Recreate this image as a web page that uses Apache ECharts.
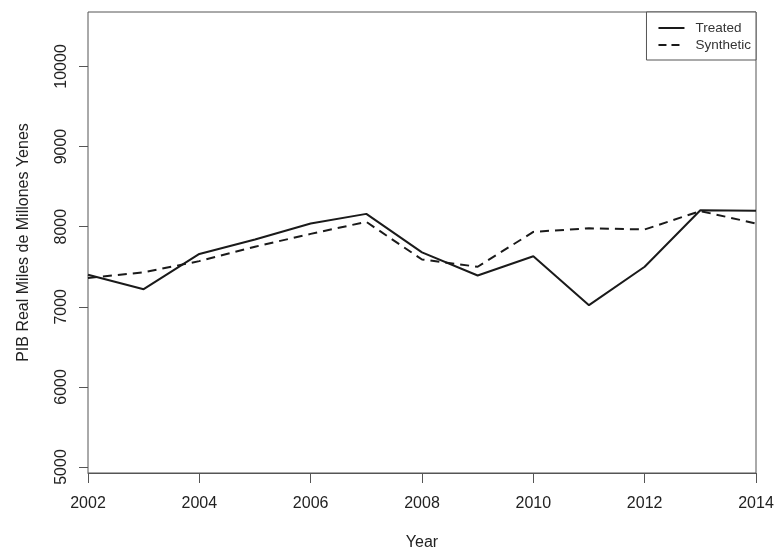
<!DOCTYPE html>
<html>
<head>
<meta charset="utf-8">
<script src="https://cdn.jsdelivr.net/npm/echarts@6/dist/echarts.min.js"></script>
<style>
html,body{margin:0;padding:0;background:#fff;}
#chart{width:779px;height:556px;}
</style>
</head>
<body>
<div id="chart"></div>
<script>
const years = [2002,2003,2004,2005,2006,2007,2008,2009,2010,2011,2012,2013,2014];
const treated = [7400,7220,7660,7840,8040,8160,7680,7390,7630,7020,7500,8205,8200];
const synthetic = [7360,7430,7570,7750,7910,8060,7590,7500,7935,7980,7965,8195,8040];
const yTicks = [5000,6000,7000,8000,9000,10000];

const chart = echarts.init(document.getElementById('chart'));
const font = 'Liberation Sans, Arial, Helvetica, sans-serif';
chart.setOption({
  animation: false,
  backgroundColor: '#fff',
  grid: {left: 88, right: 23, top: 12, bottom: 83, show: true, borderColor: '#555', borderWidth: 1, containLabel: false},
  legend: {
    orient: 'vertical', right: 23, top: 12,
    data: [
      {name: 'Treated', itemStyle: {color: 'rgba(0,0,0,0)', borderWidth: 0}, lineStyle: {color: '#1a1a1a', width: 2, type: 'solid'}},
      {name: 'Synthetic', itemStyle: {color: 'rgba(0,0,0,0)', borderWidth: 0}, lineStyle: {color: '#1a1a1a', width: 2, type: [8, 5]}}
    ],
    borderColor: '#555', borderWidth: 1, backgroundColor: '#fff',
    padding: [9, 5, 8, 11], itemWidth: 26, itemHeight: 14, itemGap: 3,
    textStyle: {fontFamily: font, fontSize: 13.5, color: '#333', padding: [0,0,0,6]}
  },
  xAxis: {
    type: 'value', min: 2002, max: 2014, interval: 2,
    name: 'Year', nameLocation: 'middle', nameGap: 62,
    nameTextStyle: {fontFamily: font, fontSize: 16, color: '#222'},
    axisLine: {show: true, lineStyle: {color: '#555'}},
    axisTick: {show: true, inside: false, length: 10, lineStyle: {color: '#555'}},
    axisLabel: {fontFamily: font, fontSize: 16, color: '#222', margin: 23, formatter: v => String(v)},
    splitLine: {show: false}
  },
  yAxis: {
    type: 'value', min: 4925, max: 10680,
    name: 'PIB Real Miles de Millones Yenes', nameLocation: 'middle', nameGap: 56, nameRotate: 90,
    nameTextStyle: {fontFamily: font, fontSize: 16, color: '#222'},
    axisLine: {show: false},
    axisTick: {show: true, inside: false, length: 9, customValues: yTicks, lineStyle: {color: '#555'}},
    axisLabel: {fontFamily: font, fontSize: 16, color: '#222', margin: 18, rotate: 90, customValues: yTicks, formatter: v => String(v)},
    splitLine: {show: false}
  },
  series: [
    {name: 'Treated', type: 'line', data: years.map((y,i)=>[y, treated[i]]), symbol: 'none',
     lineStyle: {color: '#1a1a1a', width: 2, type: 'solid'}, itemStyle: {color: '#1a1a1a'}},
    {name: 'Synthetic', type: 'line', data: years.map((y,i)=>[y, synthetic[i]]), symbol: 'none',
     lineStyle: {color: '#1a1a1a', width: 2, type: [9, 6]}, itemStyle: {color: '#1a1a1a'}}
  ]
});
</script>
</body>
</html>
